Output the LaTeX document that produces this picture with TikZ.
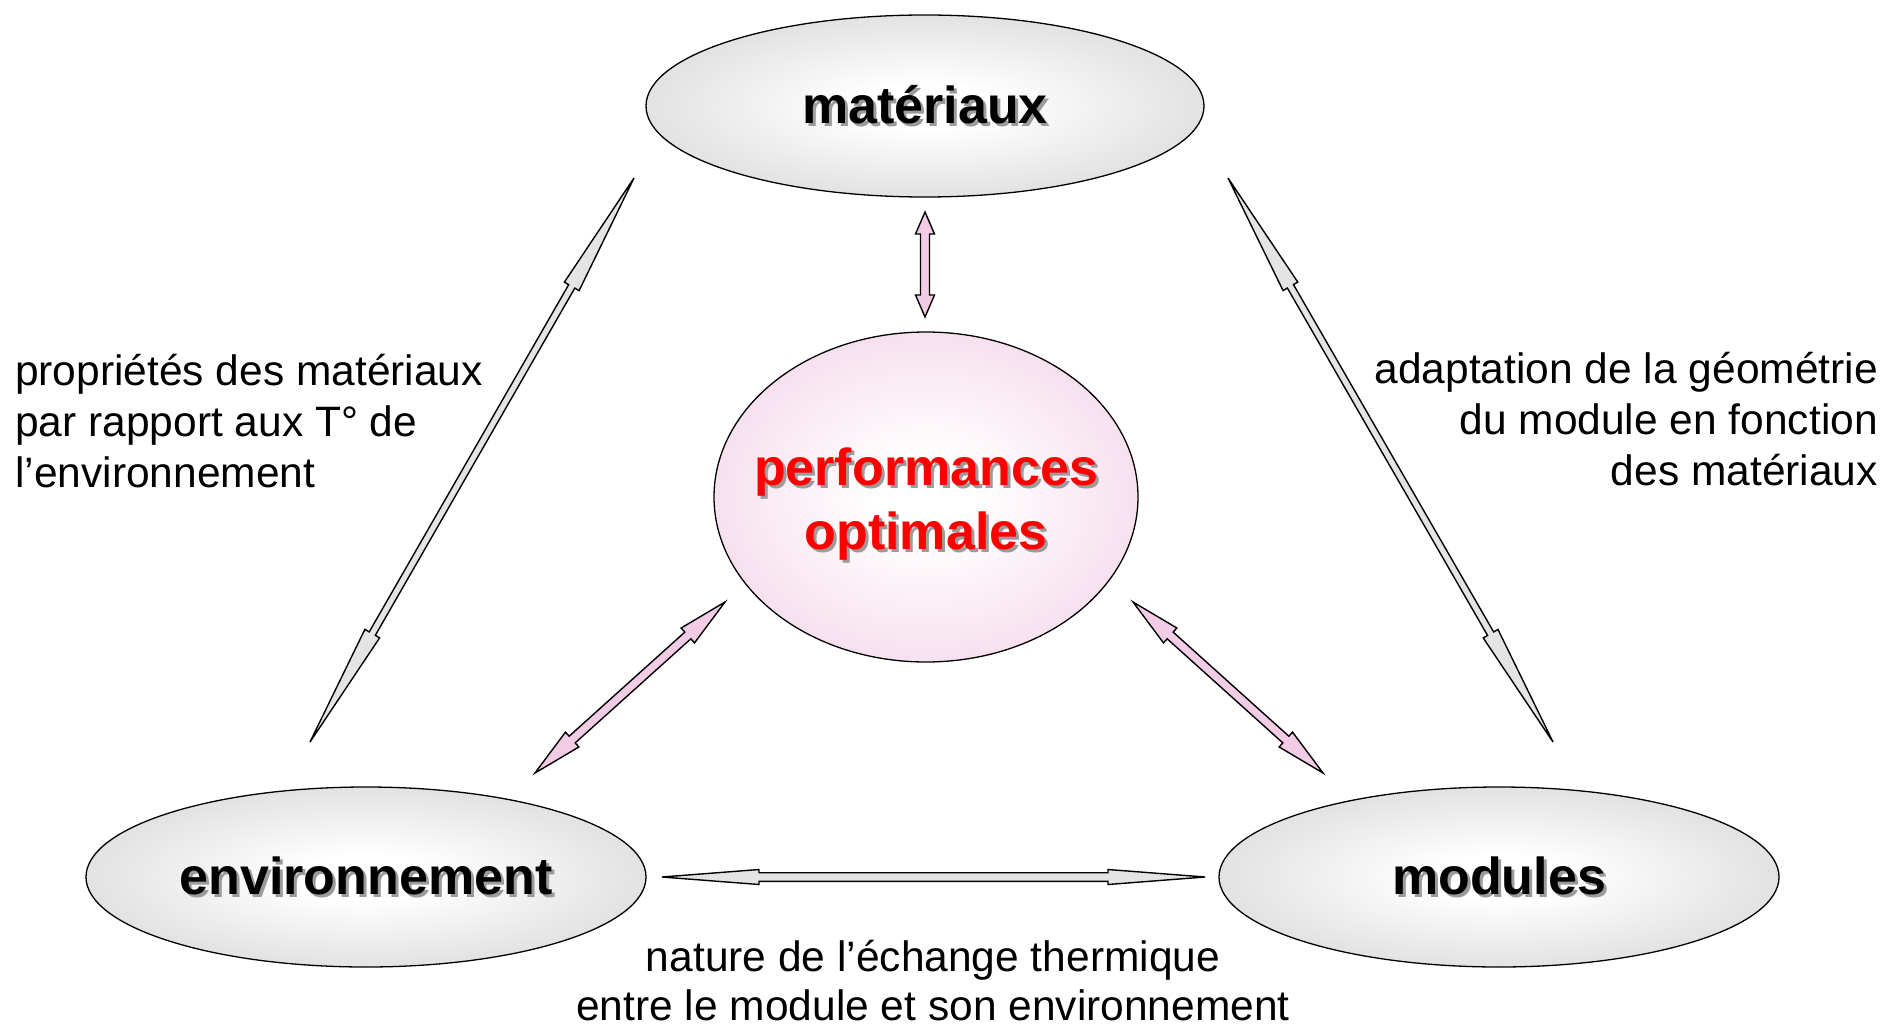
\documentclass[tikz,border=0pt]{standalone}
\usepackage{fontspec}
\setmainfont{Liberation Sans}
\usetikzlibrary{shapes.geometric,calc}
\definecolor{ellgray}{RGB}{188,188,188}
\definecolor{ellpink}{RGB}{236,184,216}
\definecolor{arrgray}{RGB}{228,228,228}
\definecolor{arrpink}{RGB}{242,204,228}
\definecolor{shadowgray}{RGB}{155,155,155}
\pgfdeclareradialshading{grayball}{\pgfpoint{0bp}{0bp}}{color(0bp)=(white); color(6bp)=(white); color(50bp)=(ellgray); color(72bp)=(ellgray)}
\pgfdeclareradialshading{pinkball}{\pgfpoint{0bp}{0bp}}{color(0bp)=(white); color(6bp)=(white); color(50bp)=(ellpink); color(72bp)=(ellpink)}
\newcommand\shtext[1]{\leavevmode\rlap{\kern3pt\raisebox{-3pt}{\textcolor{shadowgray}{#1}}}#1}
% #1 start, #2 end, #3 head length, #4 head half width, #5 shaft half width, #6 style
\newcommand\blockarrow[6]{%
  \draw[#6] (#1)
    -- ($(#1)!#3!(#2)!#4!90:(#2)$) -- ($(#1)!#3!(#2)!#5!90:(#2)$)
    -- ($(#2)!#3!(#1)!#5!-90:(#1)$) -- ($(#2)!#3!(#1)!#4!-90:(#1)$)
    -- (#2)
    -- ($(#2)!#3!(#1)!#4!90:(#1)$) -- ($(#2)!#3!(#1)!#5!90:(#1)$)
    -- ($(#1)!#3!(#2)!#5!-90:(#2)$) -- ($(#1)!#3!(#2)!#4!-90:(#2)$)
    -- cycle;}
\begin{document}
\begin{tikzpicture}[x=1pt,y=-1pt,
  ell/.style={ellipse, draw=black, line width=1.3pt, inner sep=0pt,
    font=\fontsize{52}{64}\selectfont\bfseries, align=center},
  lbl/.style={inner sep=0pt, font=\fontsize{42.5}{51}\selectfont},
  grayarrow/.style={draw=black, line width=1.4pt, fill=arrgray, line join=miter},
  pinkarrow/.style={draw=black, line width=1.4pt, fill=arrpink, line join=miter}]
\useasboundingbox (0,0) rectangle (1886,1027);
\fill[white] (0,0) rectangle (1886,1027);

\node[ell, shading=grayball, minimum width=558pt, minimum height=182pt] (mat) at (925,106) {\shtext{matériaux}};
\node[ell, shading=pinkball, text=red, inner xsep=-45pt, minimum width=424pt, minimum height=330pt] (perf) at (926,497) {\rule{0pt}{54pt}\shtext{performances}\\\shtext{optimales}};
\node[ell, shading=grayball, minimum width=560pt, minimum height=180pt] (env) at (366,877) {\shtext{environnement}};
\node[ell, shading=grayball, minimum width=560pt, minimum height=180pt] (mod) at (1499,877) {\shtext{modules}};

\coordinate (t1) at (925,212); \coordinate (t2) at (925,317);
\coordinate (l1) at (634,178); \coordinate (l2) at (310,742);
\coordinate (r1) at (1228,178); \coordinate (r2) at (1553,742);
\coordinate (b1) at (662,877); \coordinate (b2) at (1205,877);
\coordinate (dl1) at (725,602); \coordinate (dl2) at (535,773);
\coordinate (dr1) at (1133,602); \coordinate (dr2) at (1323,773);

\blockarrow{t1}{t2}{22pt}{9.5pt}{4.5pt}{pinkarrow}
\blockarrow{l1}{l2}{125pt}{8.5pt}{3.5pt}{grayarrow}
\blockarrow{r1}{r2}{125pt}{8.5pt}{3.5pt}{grayarrow}
\blockarrow{b1}{b2}{97pt}{7.5pt}{4.3pt}{grayarrow}
\blockarrow{dl1}{dl2}{50pt}{10pt}{4.5pt}{pinkarrow}
\blockarrow{dr1}{dr2}{50pt}{10pt}{4.5pt}{pinkarrow}

\node[lbl, anchor=base west, align=left] (lt) at (15,487) {propriétés des matériaux\\par rapport aux T° de\\l’environnement};
\node[lbl, anchor=base east, align=right] (rt) at (1878,485) {adaptation de la géométrie\\du module en fonction\\des matériaux};
\node[lbl, anchor=base, align=center, font=\fontsize{42.5}{49}\selectfont] (bt) at (933,1020) {nature de l’échange thermique\\entre le module et son environnement};
\end{tikzpicture}
\end{document}
